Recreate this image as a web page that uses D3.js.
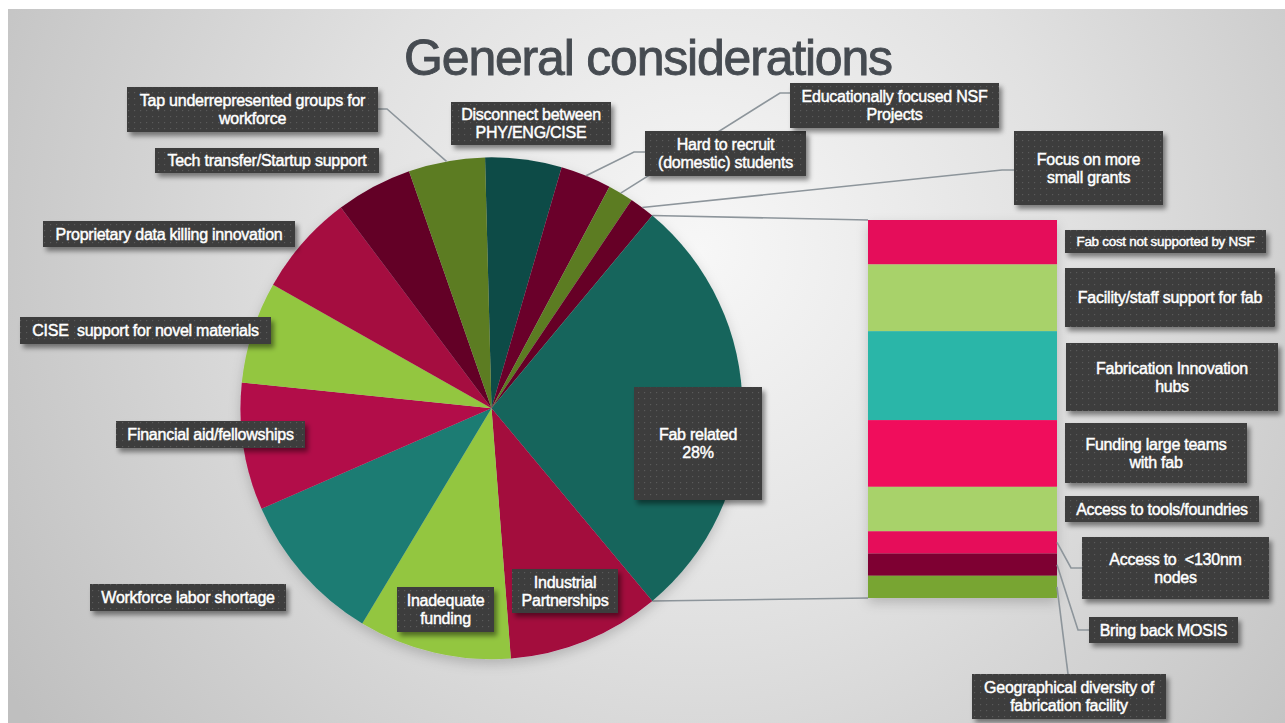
<!DOCTYPE html>
<html>
<head>
<meta charset="utf-8">
<script src="https://cdn.jsdelivr.net/npm/d3@7"></script>
<style>
  html, body { margin: 0; padding: 0; background: #ffffff; }
  svg { display: block; font-family: "Liberation Sans", Arial, Helvetica, sans-serif; }
  svg text { white-space: pre; }
</style>
</head>
<body>
<svg id="chart" width="1285" height="723"></svg>
<script>
// ---- data ----
const pieCategories = [
  "Disconnect between\nPHY/ENG/CISE",
  "Hard to recruit\n(domestic) students",
  "Educationally focused NSF\nProjects",
  "Focus on more\nsmall grants",
  "Fab related",
  "Industrial\nPartnerships",
  "Inadequate\nfunding",
  "Workforce labor shortage",
  "Financial aid/fellowships",
  "CISE  support for novel materials",
  "Proprietary data killing innovation",
  "Tech transfer/Startup support",
  "Tap underrepresented groups for\nworkforce"
];
const pieValues = [3, 2, 1, 1, 17, 6, 6, 6, 5, 4, 4, 3, 3];
const fabIndex = 4; // slice broken out into the bar

const fabCategories = [
  "Fab cost not supported by NSF",
  "Facility/staff support for fab",
  "Fabrication Innovation\nhubs",
  "Funding large teams\nwith fab",
  "Access to tools/foundries",
  "Access to  <130nm\nnodes",
  "Bring back MOSIS",
  "Geographical diversity of\nfabrication facility"
];
const fabValues = [2, 3, 4, 3, 2, 1, 1, 1];

const titleText = "General considerations";

// ---- styles ----
const pieColors = ["#0f4b46", "#6b012c", "#5b7c24", "#660028", "#17655b", "#a3073e",
                   "#93c641", "#1d7c73", "#b20b49", "#93c641", "#a50a41", "#630127", "#5b7b23"];
const fabColors = ["#e5095a", "#a8d26b", "#2bb6a8", "#f00a5c", "#a8d26b", "#e60a5a", "#7e0030", "#78a530"];

// ---- layout ----
const W = 1285, H = 723;
const pieCx = 491.5, pieCy = 408.3, pieR = 251;
const bar = { x: 868, w: 189, top: 220, bottom: 598 };

const pieBoxes = [
  [451, 102, 611, 145], [645, 131, 806, 176], [790, 83, 999, 128], [1014, 131, 1163, 205],
  [634, 387, 762, 500], [512, 569, 618, 613], [397, 587, 494, 632], [90, 584, 286, 611],
  [116, 421, 305, 448], [20, 317, 271, 344], [43, 221, 295, 247], [155, 148, 379, 173],
  [127, 87, 378, 132]
];
const fabBoxes = [
  [1065, 230, 1266, 253], [1065, 268, 1275, 327], [1066, 343, 1278, 411], [1065, 423, 1247, 483],
  [1065, 496, 1259, 522], [1082, 537, 1269, 599], [1089, 617, 1238, 643], [972, 674, 1166, 719]
];
const pieLeaders = [
  { i: 1, from: [645, 152], elbow: [634, 152] },
  { i: 2, from: [790, 93], elbow: [780, 93] },
  { i: 3, from: [1014, 170], elbow: [1002, 170] },
  { i: 12, from: [378, 109], elbow: [387, 109] }
];
const fabLeaders = [
  { i: 5, from: [1082, 568], elbow: [1071, 568] },
  { i: 6, from: [1089, 630], elbow: [1078, 630] },
  { i: 7, from: [1068, 674], elbow: null }
];

const svg = d3.select("#chart");
const defs = svg.append("defs");

// background gradient
const bg = defs.append("radialGradient").attr("id", "bgGrad")
  .attr("gradientUnits", "userSpaceOnUse")
  .attr("cx", 700).attr("cy", 250).attr("r", 820);
bg.append("stop").attr("offset", 0).attr("stop-color", "#f7f7f7");
bg.append("stop").attr("offset", 0.45).attr("stop-color", "#e1e1e1");
bg.append("stop").attr("offset", 1).attr("stop-color", "#bfbfbf");

// dotted label fill
const pat = defs.append("pattern").attr("id", "dots")
  .attr("patternUnits", "userSpaceOnUse").attr("width", 6).attr("height", 6);
pat.append("rect").attr("width", 6).attr("height", 6).attr("fill", "#3c3c3c");
pat.append("rect").attr("x", 2).attr("y", 2).attr("width", 1.2).attr("height", 1.2).attr("fill", "#5a5a5a");

const boxShadow = defs.append("filter").attr("id", "boxShadow")
  .attr("x", "-20%").attr("y", "-30%").attr("width", "140%").attr("height", "170%");
boxShadow.append("feDropShadow").attr("dx", 3).attr("dy", 4).attr("stdDeviation", 2.5)
  .attr("flood-color", "#000").attr("flood-opacity", 0.45);

const softShadow = defs.append("filter").attr("id", "softShadow")
  .attr("x", "-20%").attr("y", "-20%").attr("width", "140%").attr("height", "140%");
softShadow.append("feDropShadow").attr("dx", 0).attr("dy", 5).attr("stdDeviation", 6)
  .attr("flood-color", "#000").attr("flood-opacity", 0.18);

svg.append("rect").attr("width", W).attr("height", H).attr("fill", "#ffffff");
svg.append("rect").attr("x", 8).attr("y", 9).attr("width", W - 8).attr("height", H - 9)
  .attr("fill", "url(#bgGrad)");

// title
svg.append("text")
  .attr("x", 648).attr("y", 75)
  .attr("text-anchor", "middle")
  .attr("font-size", 50)
  .attr("letter-spacing", -1.2)
  .attr("fill", "#464b51")
  .attr("stroke", "#464b51").attr("stroke-width", 0.9)
  .text(titleText);

// ---- pie ----
const total = d3.sum(pieValues);
const unit = 2 * Math.PI / total;
const before = d3.sum(pieValues.slice(0, fabIndex));
const startAngle = Math.PI / 2 - (before + pieValues[fabIndex] / 2) * unit;

const pie = d3.pie().sort(null).value(d => d)
  .startAngle(startAngle).endAngle(startAngle + 2 * Math.PI);
const arcs = pie(pieValues);
const arc = d3.arc().innerRadius(0).outerRadius(pieR);
const rim = a => [pieCx + pieR * Math.sin(a), pieCy - pieR * Math.cos(a)];

// bar of the broken-out slice
const fabTotal = d3.sum(fabValues);
const yBar = d3.scaleLinear().domain([0, fabTotal]).range([bar.top, bar.bottom]);
const stacked = [];
let acc = 0;
fabValues.forEach((v, i) => { stacked.push({ i, y0: acc, y1: acc + v }); acc += v; });

// connector lines between the slice and the bar
const fabArc = arcs[fabIndex];
const connectors = [
  [rim(fabArc.startAngle), [bar.x, yBar(0)]],
  [rim(fabArc.endAngle), [bar.x, yBar(fabTotal)]]
];
svg.append("g").selectAll("line").data(connectors).join("line")
  .attr("x1", d => d[0][0]).attr("y1", d => d[0][1])
  .attr("x2", d => d[1][0]).attr("y2", d => d[1][1])
  .attr("stroke", "#8d959b").attr("stroke-width", 1.6);

svg.append("g")
  .attr("transform", `translate(${pieCx},${pieCy})`)
  .attr("filter", "url(#softShadow)")
  .selectAll("path").data(arcs).join("path")
  .attr("d", arc)
  .attr("fill", (d, i) => pieColors[i]);

svg.append("g").attr("filter", "url(#softShadow)")
  .selectAll("rect").data(stacked).join("rect")
  .attr("x", bar.x).attr("width", bar.w)
  .attr("y", d => yBar(d.y0))
  .attr("height", d => yBar(d.y1) - yBar(d.y0))
  .attr("fill", d => fabColors[d.i]);

// ---- leader lines ----
const leaderG = svg.append("g").attr("fill", "none")
  .attr("stroke", "#8d959b").attr("stroke-width", 1.6);
pieLeaders.forEach(l => {
  const a = arcs[l.i];
  const end = rim((a.startAngle + a.endAngle) / 2);
  const pts = [l.from, l.elbow, end];
  leaderG.append("path").attr("d", d3.line()(pts));
});
fabLeaders.forEach(l => {
  const s = stacked[l.i];
  const end = [bar.x + bar.w, yBar((s.y0 + s.y1) / 2)];
  const pts = l.elbow ? [l.from, l.elbow, end] : [l.from, end];
  leaderG.append("path").attr("d", d3.line()(pts));
});

// ---- label boxes ----
function drawLabel(g, box, lines, fontSize) {
  const [x0, y0, x1, y1] = box;
  g.append("rect")
    .attr("x", x0).attr("y", y0).attr("width", x1 - x0).attr("height", y1 - y0)
    .attr("fill", "url(#dots)").attr("filter", "url(#boxShadow)");
  const lh = 18;
  const cx = (x0 + x1) / 2, cy = (y0 + y1) / 2;
  const first = cy - (lines.length - 1) * lh / 2 + fontSize * 0.36;
  const t = g.append("text")
    .attr("text-anchor", "middle")
    .attr("font-size", fontSize)
    .attr("fill", "#ffffff")
    .attr("stroke", "#ffffff").attr("stroke-width", 0.45)
    .attr("letter-spacing", -0.25);
  lines.forEach((ln, k) => {
    t.append("tspan").attr("x", cx).attr("y", first + k * lh).text(ln);
  });
}

const labelG = svg.append("g");
arcs.forEach((a, i) => {
  let lines = pieCategories[i].split("\n");
  if (i === fabIndex) {
    lines = lines.concat([d3.format(".0%")(pieValues[i] / total)]);
  }
  drawLabel(labelG, pieBoxes[i], lines, 16);
});
stacked.forEach((s, i) => {
  drawLabel(labelG, fabBoxes[i], fabCategories[i].split("\n"), i === 0 ? 13.4 : 16);
});
</script>
</body>
</html>
